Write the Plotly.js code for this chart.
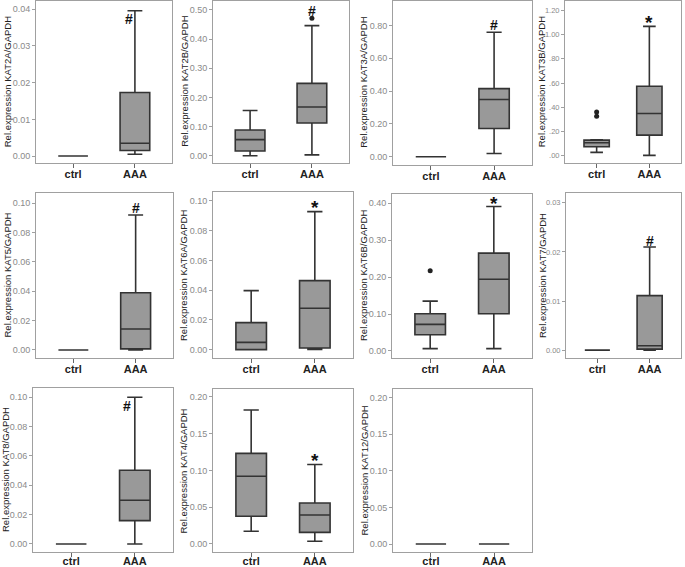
<!DOCTYPE html>
<html>
<head>
<meta charset="utf-8">
<script src="https://cdn.plot.ly/plotly-3.0.1.min.js"></script>
<style>html,body{margin:0;padding:0;background:#fff;}#chart{width:685px;height:567px;}</style>
</head>
<body>
<div id="chart"></div>
<script>
// ---------- data ----------
const groups = ['ctrl', 'AAA'];
const genes = ['KAT2A', 'KAT2B', 'KAT3A', 'KAT3B', 'KAT5', 'KAT6A', 'KAT6B', 'KAT7', 'KAT8', 'KAT4', 'KAT12'];
// each entry: [ctrl, AAA]
const lowerWhisker = [[0, 0.0005], [0, 0.003], [0, 0.02], [0.028, 0.003], [0, 0], [0, 0.0002], [0.0063, 0.0063], [0, 0], [0, 0], [0.0172, 0.0036], [0, 0]];
const quart1       = [[0, 0.0015], [0.016, 0.112], [0, 0.172], [0.074, 0.17], [0, 0.0007], [0, 0.0011], [0.044, 0.101], [0, 0.0002], [0, 0.0159], [0.0376, 0.0158], [0, 0]];
const medians      = [[0, 0.0035], [0.055, 0.167], [0, 0.349], [0.107, 0.349], [0, 0.0143], [0.0049, 0.0278], [0.072, 0.194], [0, 0.0009], [0, 0.0298], [0.0919, 0.0394], [0, 0]];
const quart3       = [[0, 0.0173], [0.088, 0.248], [0, 0.415], [0.129, 0.574], [0, 0.039], [0.0182, 0.0464], [0.101, 0.265], [0, 0.0111], [0, 0.0502], [0.123, 0.0557], [0, 0]];
const upperWhisker = [[0, 0.0396], [0.155, 0.446], [0, 0.759], [0.131, 1.068], [0, 0.092], [0.0397, 0.0928], [0.135, 0.391], [0, 0.021], [0, 0.10], [0.182, 0.108], [0, 0]];

const outlierGene  = ['KAT2B', 'KAT3B', 'KAT3B', 'KAT6B'];
const outlierGroup = ['AAA', 'ctrl', 'ctrl', 'ctrl'];
const outlierValue = [0.471, 0.362, 0.327, 0.217];

const sigMark  = ['#', '#', '#', '*', '#', '*', '*', '#', '#', '*', ''];
const sigGroup = ['AAA', 'AAA', 'AAA', 'AAA', 'AAA', 'AAA', 'AAA', 'AAA', 'AAA', 'AAA', 'AAA'];
const sigValue = [0.0373, 0.497, 0.80, 1.12, 0.097, 0.097, 0.406, 0.0222, 0.094, 0.116, null];

// custom tick labels for KAT3B panel
const kat3bTickVals = [0, 0.2, 0.4, 0.6, 0.8, 1.0, 1.2];
const kat3bTickText = ['.00', '.20', '.40', '.60', '.80', '1.00', '1.20'];

// ---------- layout (positions / styles) ----------
const W = 685, H = 567;
const panelBox = [ // left, right, top, bottom in px
  [36, 172, 0.5, 163], [213, 349, 0.5, 163], [393, 532, 0.5, 165], [565, 681, 0.5, 163],
  [36, 173, 193, 358], [213, 353, 192, 358], [392, 532, 194, 358], [566, 681, 193, 358],
  [33, 173, 388, 552], [213, 353, 389, 552], [393, 532, 389, 552]
];
const yRange = [
  [-0.0019, 0.0424], [-0.025, 0.532], [-0.050, 0.952], [-0.060, 1.282],
  [-0.0055, 0.107], [-0.0056, 0.106], [-0.019, 0.425], [-0.0016, 0.032],
  [-0.0055, 0.1063], [-0.0109, 0.2105], [-0.0109, 0.2119]
];
const yDtick = [0.01, 0.1, 0.2, 0.2, 0.02, 0.02, 0.1, 0.01, 0.02, 0.05, 0.05];
const yTickSize = [9, 9, 9, 7.5, 9, 9, 9, 7.5, 9, 9, 9];
const sigShift = [-6, 0, 0, 0, 0, 0, 0, 0, -8, 0, 0];
// px from the y-axis line to the centre of the rotated title
const titleGap = [28.5, 28, 29, 23.5, 29, 30, 29, 23.5, 28, 30, 29];

const FONT = 'Liberation Sans, Arial, sans-serif';
const traces = [];
const layout = {
  width: W, height: H, autosize: false,
  margin: {l: 0, r: 0, t: 0, b: 0},
  paper_bgcolor: '#fff', plot_bgcolor: '#fff',
  showlegend: false,
  font: {family: FONT},
  annotations: []
};

genes.forEach((g, i) => {
  const s = i === 0 ? '' : String(i + 1);
  const b = panelBox[i];
  traces.push({
    type: 'box', xaxis: 'x' + s, yaxis: 'y' + s,
    x: groups,
    lowerfence: lowerWhisker[i], q1: quart1[i], median: medians[i], q3: quart3[i], upperfence: upperWhisker[i],
    width: 0.48, whiskerwidth: 0.5,
    fillcolor: '#999999',
    line: {color: '#333333', width: 1.6},
    boxpoints: false, hoverinfo: 'skip', name: g
  });
  // outliers
  const ox = [], oy = [];
  outlierGene.forEach((og, k) => { if (og === g) { ox.push(outlierGroup[k]); oy.push(outlierValue[k]); } });
  if (ox.length) {
    traces.push({type: 'scatter', mode: 'markers', xaxis: 'x' + s, yaxis: 'y' + s, x: ox, y: oy,
      marker: {color: '#222', size: 5}, hoverinfo: 'skip'});
  }
  const yax = {
    domain: [1 - b[3] / H, 1 - b[2] / H], anchor: 'x' + s,
    range: yRange[i], dtick: yDtick[i], tick0: 0, tickformat: '.2f',
    showgrid: false, zeroline: false,
    showline: true, mirror: true, linecolor: '#a0a0a0', linewidth: 1,
    ticks: 'outside', ticklen: 3, tickcolor: '#a0a0a0', tickwidth: 1,
    tickfont: {size: yTickSize[i], color: '#8a8a8a', family: FONT}
  };
  if (g === 'KAT3B') { yax.tickmode = 'array'; yax.tickvals = kat3bTickVals; yax.ticktext = kat3bTickText; }
  layout['yaxis' + s] = yax;
  layout['xaxis' + s] = {
    domain: [b[0] / W, b[1] / W], anchor: 'y' + s,
    type: 'category', categoryorder: 'array', categoryarray: groups,
    range: [-0.6, 1.6],
    showgrid: false, zeroline: false,
    showline: true, mirror: true, linecolor: '#a0a0a0', linewidth: 1,
    ticks: 'outside', ticklen: 4, tickcolor: '#666', tickwidth: 1,
    ticklabelstandoff: i >= 8 ? -5 : -3,
    tickfont: {size: 11, color: '#222', family: FONT, weight: 'bold'}
  };
  // rotated y-axis title
  layout.annotations.push({
    xref: 'paper', yref: 'paper',
    x: (b[0] - titleGap[i]) / W, y: 1 - (b[2] + b[3]) / 2 / H,
    xanchor: 'center', yanchor: 'middle', textangle: -90, showarrow: false,
    text: 'Rel.expression ' + g + '/GAPDH',
    font: {size: 9.5, color: '#222', family: FONT}
  });
  if (sigMark[i]) {
    const star = sigMark[i] === '*';
    layout.annotations.push({
      xref: 'x' + s, yref: 'y' + s, x: sigGroup[i], y: sigValue[i],
      text: '<b>' + sigMark[i] + '</b>', showarrow: false,
      xshift: sigShift[i], yshift: star ? -2 : 0,
      font: {size: star ? 19 : 14, color: '#111', family: FONT}
    });
  }
});

Plotly.newPlot('chart', traces, layout, {staticPlot: true, displayModeBar: false});
</script>
</body>
</html>
